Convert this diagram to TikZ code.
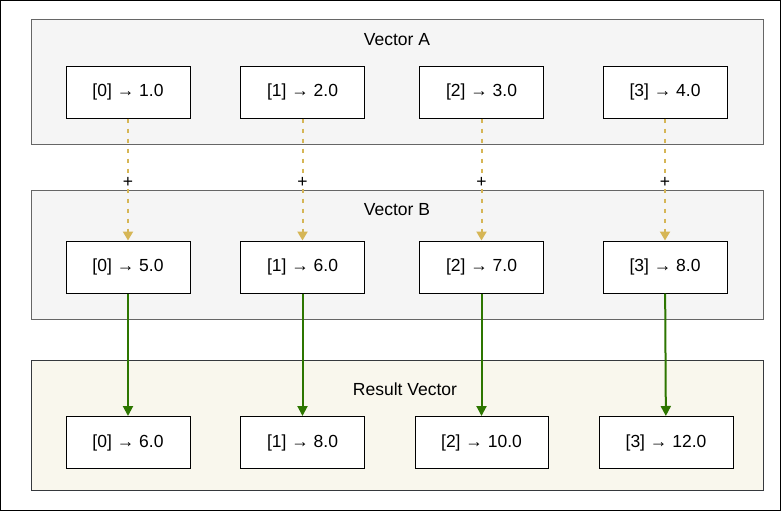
\documentclass[tikz,border=0pt]{standalone}
\usepackage{fontspec}
\setmainfont{Liberation Sans}
\usetikzlibrary{arrows.meta}
\definecolor{panelgray}{HTML}{F5F5F5}
\definecolor{panelline}{HTML}{666666}
\definecolor{resultfill}{HTML}{F9F7ED}
\definecolor{resultline}{HTML}{36393D}
\definecolor{addline}{HTML}{D6B656}
\definecolor{sumline}{HTML}{2D7600}
\tikzset{
  panel/.style={draw=panelline, fill=panelgray, line width=1pt, minimum width=732pt, inner sep=0pt},
  cell/.style={draw, fill=white, line width=1pt, minimum width=124pt, minimum height=52pt, inner sep=0pt},
  addarrow/.style={draw=addline, line width=2pt, dash pattern=on 4pt off 6pt, -{Triangle[width=10pt,length=9pt]}},
  sumarrow/.style={draw=sumline, line width=2pt, -{Triangle[width=10pt,length=10pt]}},
  plus/.style={fill=white, inner sep=1pt}
}
\begin{document}
\begin{tikzpicture}[x=1pt, y=-1pt, font=\fontsize{17.5}{20}\selectfont]
\useasboundingbox (0,0) rectangle (781,511);
\draw[line width=1pt] (0.5,0.5) rectangle (780.5,510.5);

\node[panel, minimum height=124pt] (vecA) at (397,82) {};
\node[panel, minimum height=129pt] (vecB) at (397,254.5) {};
\node[panel, draw=resultline, fill=resultfill, minimum height=130pt] (vecR) at (397,425) {};
\node (titleA) at (397,40) {Vector A};
\node (titleB) at (397,210) {Vector B};
\node (titleR) at (405,389) {Result Vector};

\node[cell] (a0) at (128,92) {[0] → 1.0};
\node[cell] (a1) at (302.5,92) {[1] → 2.0};
\node[cell] (a2) at (481.5,92) {[2] → 3.0};
\node[cell] (a3) at (665,92) {[3] → 4.0};

\node[cell] (b0) at (128,267) {[0] → 5.0};
\node[cell] (b1) at (302.5,267) {[1] → 6.0};
\node[cell] (b2) at (481.5,267) {[2] → 7.0};
\node[cell] (b3) at (665,267) {[3] → 8.0};

\node[cell] (r0) at (128,442.5) {[0] → 6.0};
\node[cell] (r1) at (302.5,442.5) {[1] → 8.0};
\node[cell, minimum width=133pt] (r2) at (481.5,442.5) {[2] → 10.0};
\node[cell, minimum width=134pt] (r3) at (666,442.5) {[3] → 12.0};

\path[addarrow] (a0) -- node[plus, pos=0.525] {+} (b0);
\path[addarrow] (a1) -- node[plus, pos=0.525] {+} (b1);
\path[addarrow] (a2) -- node[plus, pos=0.525] {+} (b2);
\path[addarrow] (a3) -- node[plus, pos=0.525] {+} (b3);

\path[sumarrow] (b0) -- (r0);
\path[sumarrow] (b1) -- (r1);
\path[sumarrow] (b2) -- (r2);
\path[sumarrow] (b3) -- (r3);
\end{tikzpicture}
\end{document}
